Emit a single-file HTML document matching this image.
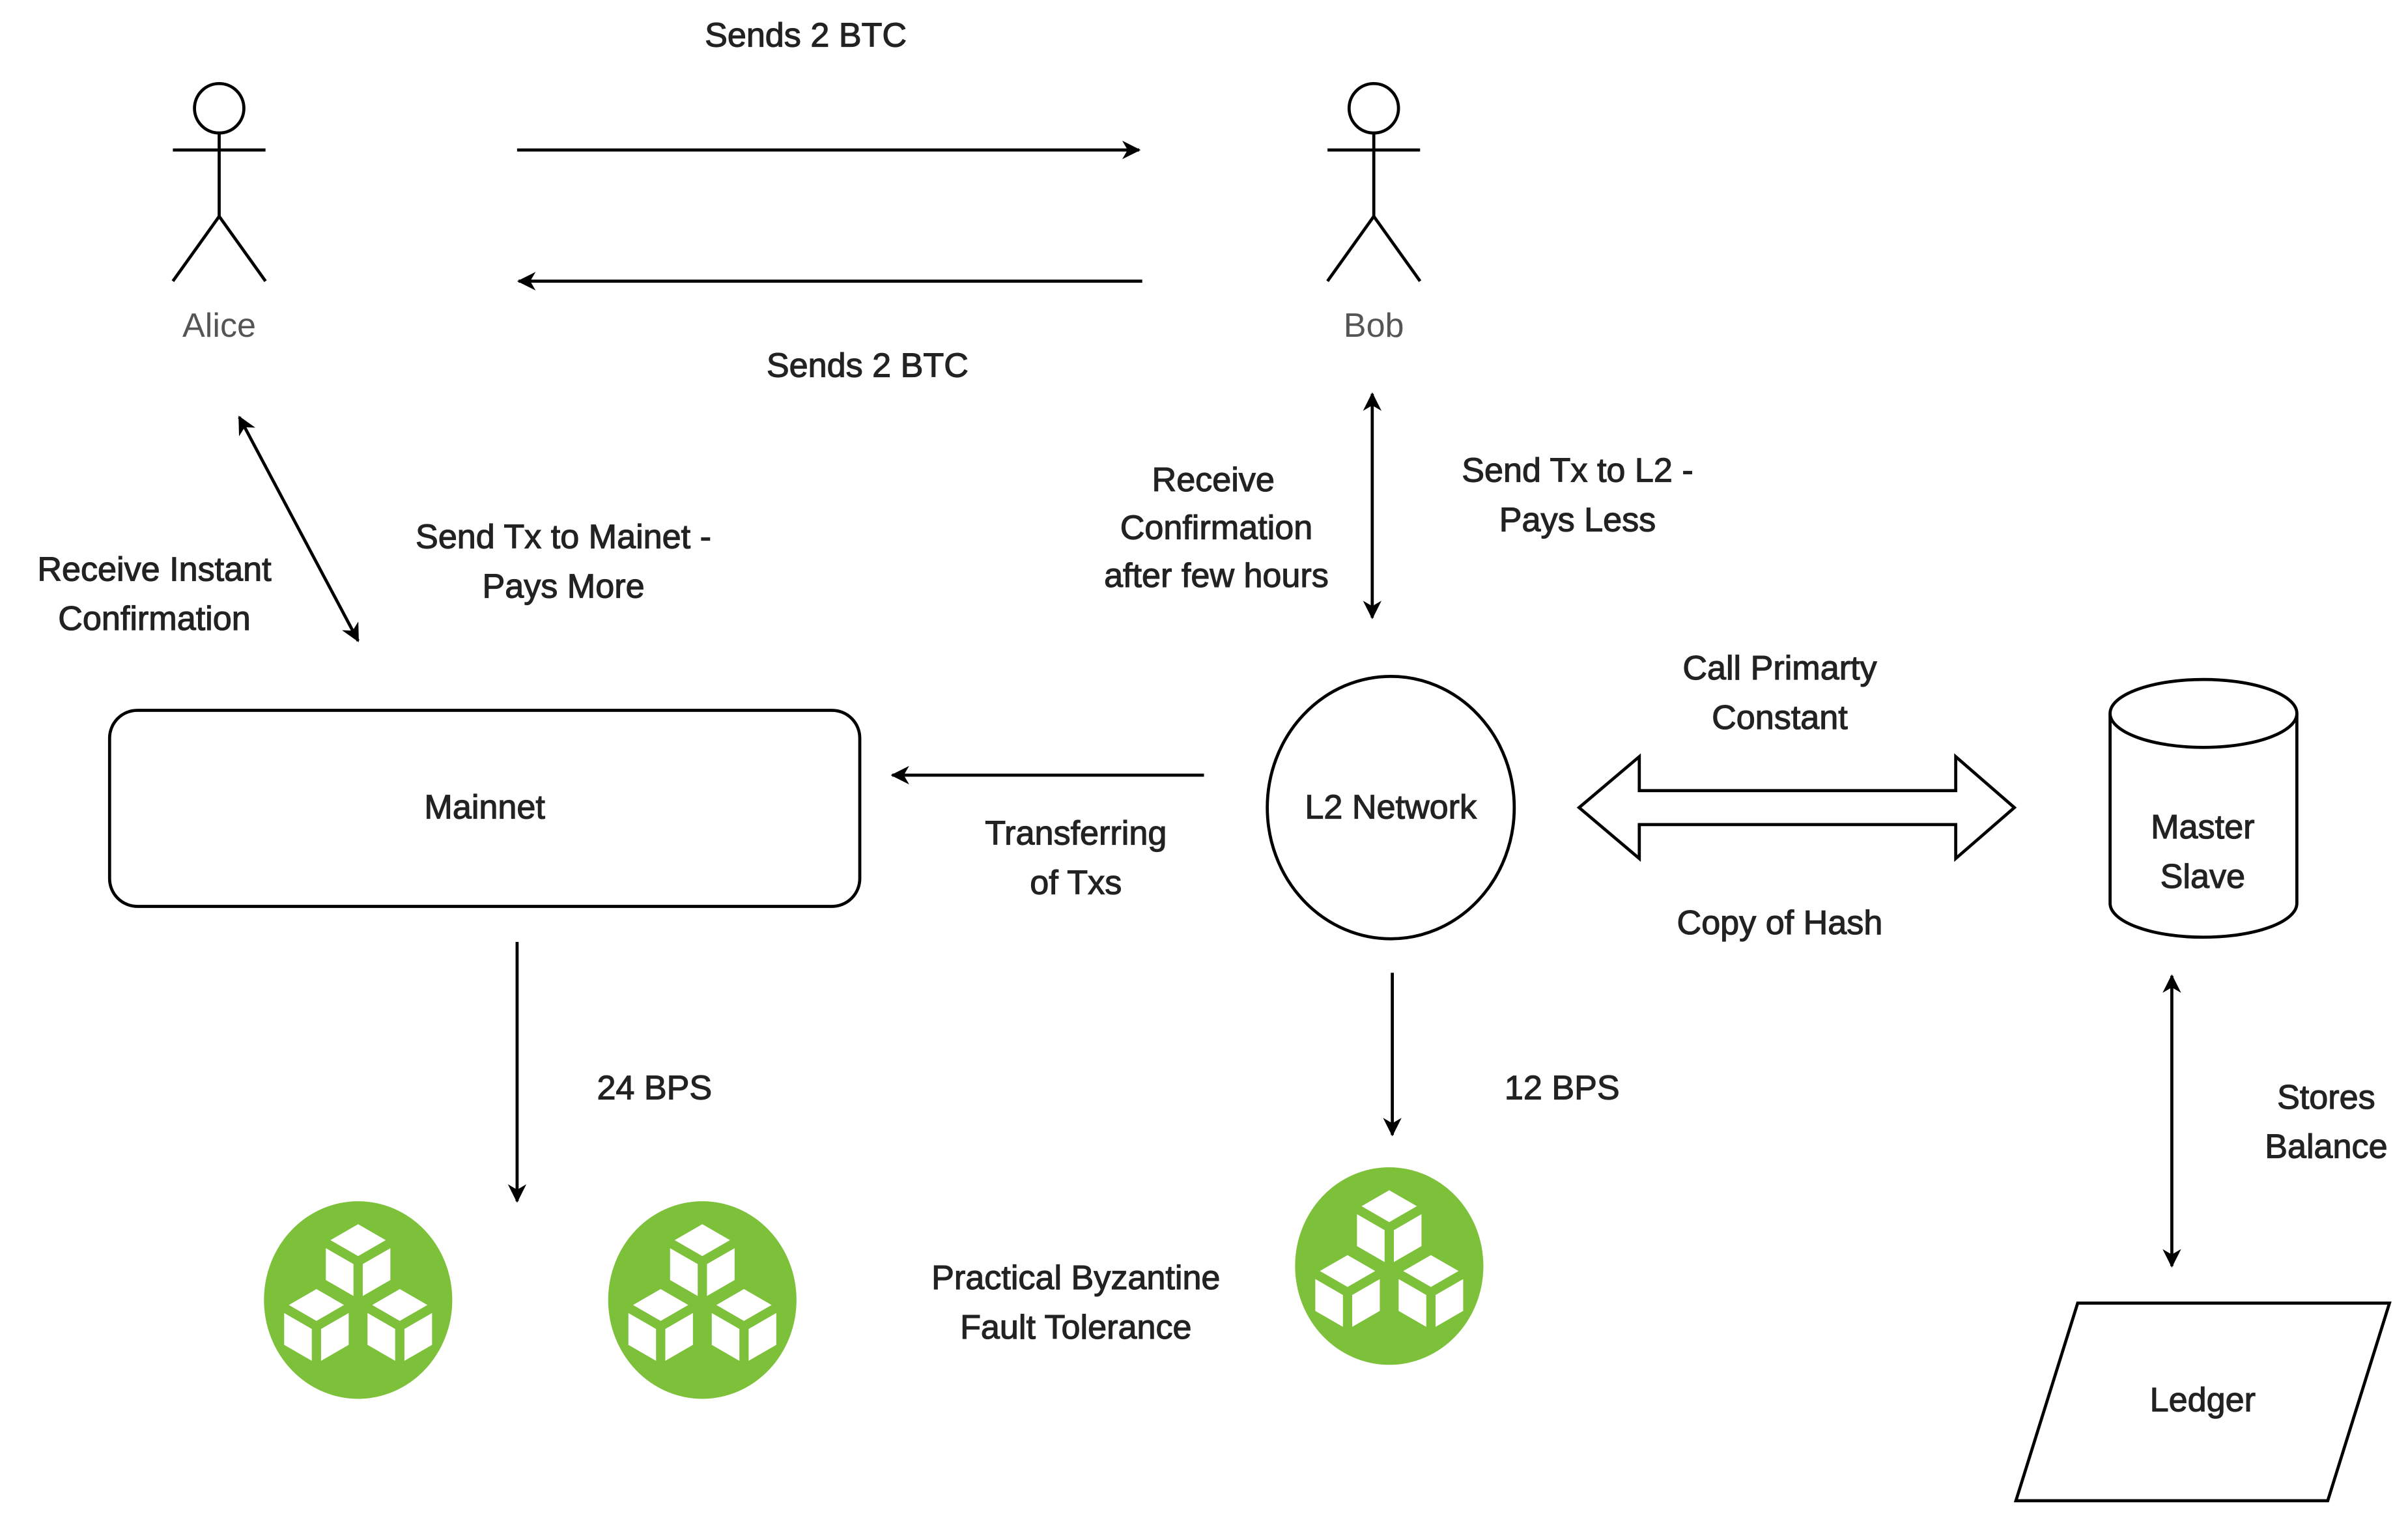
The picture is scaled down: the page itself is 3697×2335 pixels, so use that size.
<!DOCTYPE html>
<html><head><meta charset="utf-8"><style>
html,body{margin:0;padding:0;background:#fff;}
svg{display:block;}
text{font-family:"Liberation Sans",sans-serif;font-size:22px;fill:#222;stroke:#222;stroke-width:0.5;text-anchor:middle;}
</style></head><body>
<svg width="3697" height="2335" viewBox="0 0 1560 985" xmlns="http://www.w3.org/2000/svg">
<defs>
<marker id="a" markerWidth="12" markerHeight="12" refX="11" refY="6" orient="auto-start-reverse" markerUnits="userSpaceOnUse">
<path d="M0,0 L12,6 L0,12 L3.5,6 Z" fill="#000"/>
</marker>
<g id="cube">
<polygon points="0,-27 23.4,-13.5 23.4,13.5 0,27 -23.4,13.5 -23.4,-13.5" fill="#fff" stroke="#7dc13a" stroke-width="5"/>
<path d="M0,0 L-23.4,-13.5 M0,0 L23.4,-13.5 M0,0 L0,27" stroke="#7dc13a" stroke-width="6"/>
</g>
<g id="blk">
<ellipse cx="0" cy="0" rx="61" ry="64" fill="#7dc13a"/>
<use href="#cube" x="0" y="-25"/>
<use href="#cube" x="-27" y="17"/>
<use href="#cube" x="27" y="17"/>
</g>
</defs>
<g stroke="#000" stroke-width="2" fill="none">
<circle cx="142" cy="70" r="16"/>
<path d="M142,86 V140 M112,97 H172 M142,140 L112,182 M142,140 L172,182"/>
<circle cx="890" cy="70" r="16"/>
<path d="M890,86 V140 M860,97 H920 M890,140 L860,182 M890,140 L920,182"/>
<line x1="335" y1="97" x2="738" y2="97" marker-end="url(#a)"/>
<line x1="740" y1="182" x2="336" y2="182" marker-end="url(#a)"/>
<line x1="155" y1="270" x2="232" y2="415" marker-start="url(#a)" marker-end="url(#a)"/>
<line x1="889" y1="255" x2="889" y2="400" marker-start="url(#a)" marker-end="url(#a)"/>
<rect x="71" y="460" width="486" height="127" rx="18"/>
<line x1="780" y1="502" x2="578" y2="502" marker-end="url(#a)"/>
<ellipse cx="901" cy="523" rx="80" ry="85"/>
<polygon points="1023,523 1062,490 1062,512 1267,512 1267,490 1305,523 1267,556 1267,534 1062,534 1062,556"/>
<path d="M1367,462 V585 A60.5,22 0 0 0 1488,585 V462"/>
<ellipse cx="1427.5" cy="462" rx="60.5" ry="22"/>
<line x1="1407" y1="632" x2="1407" y2="820" marker-start="url(#a)" marker-end="url(#a)"/>
<polygon points="1346,844 1548,844 1508,972 1306,972"/>
<line x1="335" y1="610" x2="335" y2="778" marker-end="url(#a)"/>
<line x1="902" y1="630" x2="902" y2="735" marker-end="url(#a)"/>
</g>
<use href="#blk" x="232" y="842"/>
<use href="#blk" x="455" y="842"/>
<use href="#blk" x="900" y="820"/>
<text x="142" y="218" style="fill:#555;stroke:none">Alice</text>
<text x="890" y="218" style="fill:#555;stroke:none">Bob</text>
<text x="522" y="30">Sends 2 BTC</text>
<text x="562" y="244">Sends 2 BTC</text>
<text x="100" y="376">Receive Instant</text>
<text x="100" y="408">Confirmation</text>
<text x="365" y="355">Send Tx to Mainet -</text>
<text x="365" y="387">Pays More</text>
<text x="786" y="318">Receive</text>
<text x="788" y="349">Confirmation</text>
<text x="788" y="380">after few hours</text>
<text x="1022" y="312">Send Tx to L2 -</text>
<text x="1022" y="344">Pays Less</text>
<text x="314" y="530">Mainnet</text>
<text x="697" y="547">Transferring</text>
<text x="697" y="579">of Txs</text>
<text x="901" y="530">L2 Network</text>
<text x="1153" y="440">Call Primarty</text>
<text x="1153" y="472">Constant</text>
<text x="1153" y="605">Copy of Hash</text>
<text x="1427" y="543">Master</text>
<text x="1427" y="575">Slave</text>
<text x="1507" y="718">Stores</text>
<text x="1507" y="750">Balance</text>
<text x="1427" y="914">Ledger</text>
<text x="424" y="712">24 BPS</text>
<text x="1012" y="712">12 BPS</text>
<text x="697" y="835">Practical Byzantine</text>
<text x="697" y="867">Fault Tolerance</text>
</svg>
</body></html>
